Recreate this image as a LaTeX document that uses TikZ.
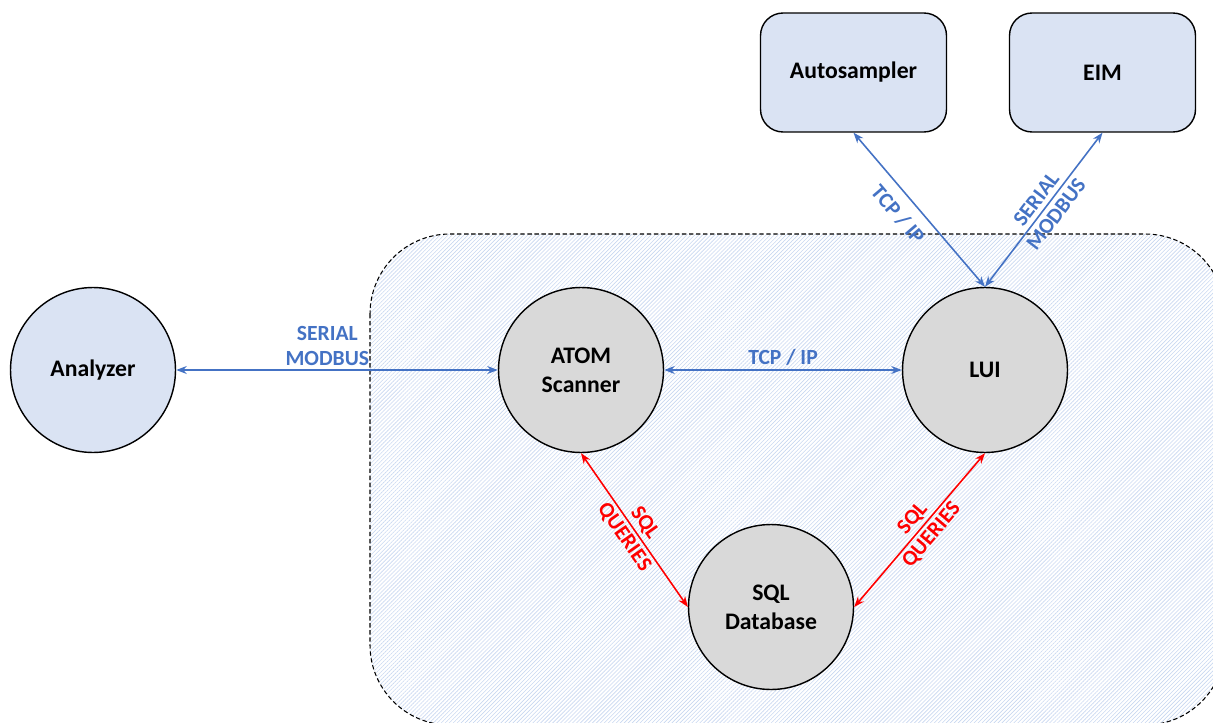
\documentclass[tikz,border=0pt]{standalone}
\usepackage{fontspec}
\setmainfont{Carlito}
\usepackage{xcolor}
\definecolor{hblue}{RGB}{68,114,196}
\definecolor{hred}{RGB}{255,0,0}
\definecolor{hfill}{RGB}{218,227,243}
\definecolor{hgrey}{RGB}{217,217,217}
\definecolor{hhatch}{RGB}{200,215,240}
\usetikzlibrary{arrows.meta,patterns.meta}
\tikzset{
  unit/.style={circle,draw,line width=0.8pt,minimum size=3.3cm,inner sep=0pt,align=center,
    font=\fontsize{13.5}{16.5}\selectfont\bfseries},
  device/.style={rectangle,rounded corners=0.45cm,draw,line width=0.8pt,fill=hfill,
    minimum width=3.72cm,minimum height=2.38cm,font=\fontsize{13.5}{16.5}\selectfont\bfseries},
  lbl/.style={align=center,inner sep=2pt,font=\fontsize{12.3}{14.2}\selectfont\bfseries},
  blink/.style={hblue,line width=0.9pt,{Stealth[length=6pt,width=4.5pt]}-{Stealth[length=6pt,width=4.5pt]}},
  rlink/.style={hred,line width=0.9pt,{Stealth[length=6pt,width=4.5pt]}-{Stealth[length=6pt,width=4.5pt]}},
}
\begin{document}
\begin{tikzpicture}[x=0.02cm,y=-0.02cm]
\useasboundingbox (0,0) rectangle (1213,723);
\begin{scope}
\clip (0,0) rectangle (1213,723);
\draw[line width=0.6pt,dash pattern=on 2.5pt off 1.5pt,rounded corners=1.6cm,
  pattern={Lines[angle=45,distance=1.6pt,line width=0.35pt]},pattern color=hhatch]
  (370,234) rectangle (1225,725);
\end{scope}
\node[unit,fill=hfill] (ana) at (93,370) {Analyzer};
\node[unit,fill=hgrey] (atom) at (581,370) {ATOM\\Scanner};
\node[unit,fill=hgrey] (lui) at (985,370) {LUI};
\node[unit,fill=hgrey] (sql) at (771,607) {SQL\\Database};
\node[device] (auto) at (853.5,72.5) {Autosampler};
\node[device] (eim) at (1102.5,72.5) {EIM};
\draw[blink] (ana) -- node[above,pos=0.47,lbl,text=hblue] {SERIAL\\MODBUS} (atom);
\draw[blink] (atom) -- node[above,lbl,text=hblue] {TCP / IP} (lui);
\draw[blink] (auto.south) -- node[sloped,below=4pt,pos=0.45,lbl,text=hblue] {TCP / IP} (lui.north);
\draw[blink] (lui.north) -- node[sloped,pos=0.52,lbl,text=hblue] {SERIAL\\MODBUS} (eim.south);
\draw[rlink] (atom.south) -- node[sloped,pos=0.5,lbl,text=hred] {SQL\\QUERIES} (sql.west);
\draw[rlink] (sql.east) -- node[sloped,pos=0.52,lbl,text=hred] {SQL\\QUERIES} (lui.south);
\end{tikzpicture}
\end{document}
